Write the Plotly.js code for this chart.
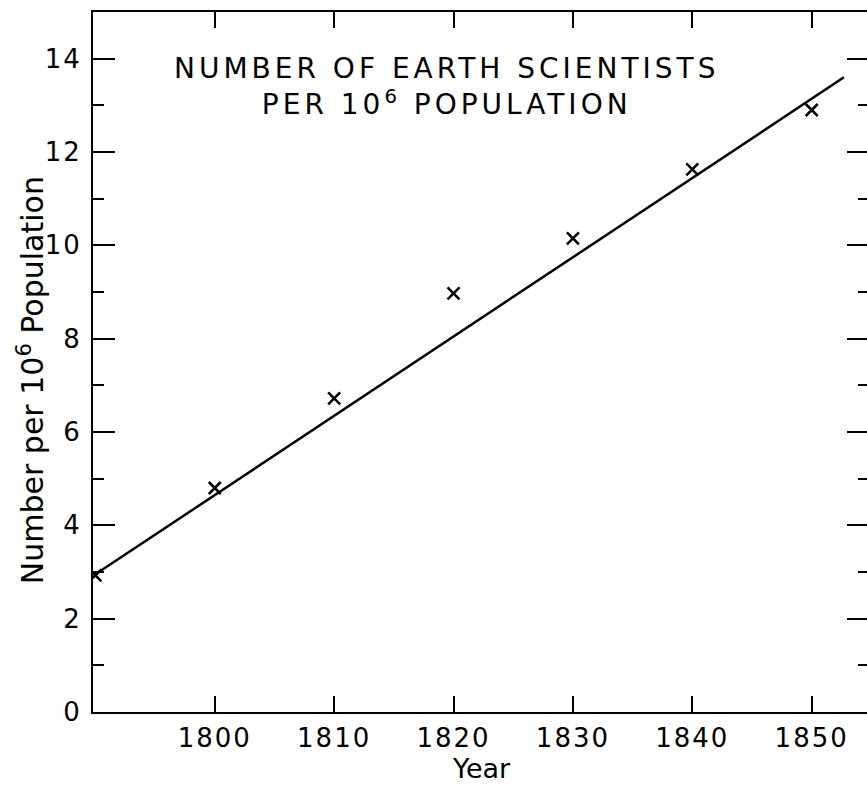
<!DOCTYPE html>
<html>
<head>
<meta charset="utf-8">
<script src="https://cdn.plot.ly/plotly-3.0.1.min.js"></script>
<style>
html,body{margin:0;padding:0;overflow:hidden;background:#fff;width:867px;height:789px;}
#chart{width:871px;height:789px;}
#chart .xtick text{letter-spacing:2px;}
#chart .ytick text{letter-spacing:2px;}
#chart .annotation.title-note text{letter-spacing:4px;}
</style>
</head>
<body>
<div id="chart"></div>
<script>
// Data
var years = [1790, 1800, 1810, 1820, 1830, 1840, 1850];
var scientistsPerMillion = [2.93, 4.80, 6.72, 8.97, 10.15, 11.63, 12.90];
var fitYears = [1790, 1852.7];
var fitValues = [2.95, 13.6];
var xTickVals = [1800, 1810, 1820, 1830, 1840, 1850];
var xTickText = ['1800', '1810', '1820', '1830', '1840', '1850'];
var yTickVals = [0, 2, 4, 6, 8, 10, 12, 14];
var yTickText = ['0', '2', '4', '6', '8', '10', '12', '14'];
var yMinorVals = [1, 3, 5, 7, 9, 11, 13];

var fitTrace = {
  x: fitYears, y: fitValues, mode: 'lines', type: 'scatter',
  line: {color: '#000', width: 2.5}, hoverinfo: 'skip', showlegend: false
};
var pointTrace = {
  x: years, y: scientistsPerMillion, mode: 'markers', type: 'scatter',
  marker: {symbol: 'x-thin-open', size: 12, color: '#000', line: {color: '#000', width: 2.5}},
  showlegend: false
};

var font = 'DejaVu Sans, sans-serif';
var layout = {
  width: 871, height: 789,
  margin: {l: 93, r: 2, t: 12, b: 77},
  paper_bgcolor: '#fff', plot_bgcolor: '#fff',
  showlegend: false,
  xaxis: {
    range: [1789.8, 1854.8],
    tickvals: xTickVals, ticktext: xTickText,
    ticks: 'inside', ticklen: 16, tickwidth: 2, tickcolor: '#000',
    showline: true, linecolor: '#000', linewidth: 2, mirror: 'ticks',
    showgrid: false, zeroline: false,
    tickfont: {family: font, size: 26, color: '#000'},
    ticklabelstandoff: 2
  },
  yaxis: {
    range: [0, 15],
    tickvals: yTickVals, ticktext: yTickText,
    ticks: 'inside', ticklen: 22, tickwidth: 2, tickcolor: '#000',
    minor: {tickvals: yMinorVals, ticks: 'inside', ticklen: 11, tickwidth: 2, tickcolor: '#000', showgrid: false},
    showline: true, linecolor: '#000', linewidth: 2, mirror: 'ticks',
    showgrid: false, zeroline: false,
    tickfont: {family: font, size: 26, color: '#000'},
    ticklabelstandoff: 4
  },
  annotations: [
    {
      text: 'NUMBER OF EARTH SCIENTISTS<br>PER 10<sup>6</sup> POPULATION',
      xref: 'paper', yref: 'paper', x: 0.455, y: 0.893,
      xanchor: 'center', yanchor: 'middle', showarrow: false,
      font: {family: font, size: 28, color: '#000'}, align: 'center'
    },
    {
      text: 'Year',
      xref: 'paper', yref: 'paper', x: 0.50, y: -0.08,
      xanchor: 'center', yanchor: 'middle', showarrow: false,
      font: {family: font, size: 27, color: '#000'}
    },
    {
      text: 'Number per 10<sup>6</sup> Population',
      xref: 'paper', yref: 'paper', x: -0.0799, y: 0.474,
      xanchor: 'center', yanchor: 'middle', showarrow: false, textangle: -90,
      font: {family: font, size: 30, color: '#000'}
    }
  ]
};

Plotly.newPlot('chart', [fitTrace, pointTrace], layout, {displayModeBar: false, staticPlot: true}).then(function (gd) {
  var notes = gd.querySelectorAll('.annotation');
  if (notes.length) notes[0].classList.add('title-note');
});
</script>
</body>
</html>
